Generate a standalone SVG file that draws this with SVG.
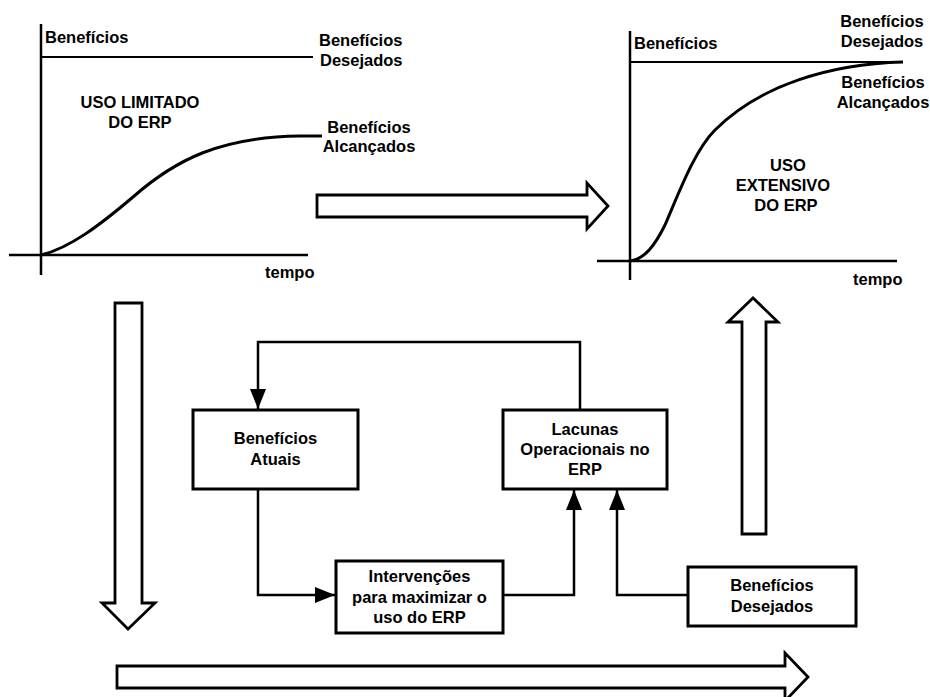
<svg xmlns="http://www.w3.org/2000/svg" width="930" height="697" viewBox="0 0 930 697">
<style>
text{font-family:"Liberation Sans",Arial,sans-serif;font-weight:bold;font-size:16.5px;fill:#000}
.c{text-anchor:middle}
.axis{stroke:#000;stroke-width:2.5;fill:none}
.thin{stroke:#000;stroke-width:1.8;fill:none}
.curve{stroke:#000;stroke-width:3;fill:none}
.block{fill:#fff;stroke:#000;stroke-width:2.8;stroke-linejoin:miter}
.box{fill:#fff;stroke:#000;stroke-width:3}
.conn{stroke:#000;stroke-width:2.5;fill:none}
</style>
<defs>
<marker id="ah" viewBox="0 0 20 16" refX="20" refY="8" markerWidth="20" markerHeight="16" markerUnits="userSpaceOnUse" orient="auto">
<path d="M0,0 L20,8 L0,16 z" fill="#000"/>
</marker>
</defs>
<rect width="930" height="697" fill="#fff"/>

<g id="chart-limitado">
<line class="axis" x1="41" y1="24" x2="41" y2="275"/>
<line class="axis" x1="9" y1="255" x2="308" y2="255"/>
<line class="thin" x1="41" y1="57" x2="313" y2="57"/>
<path class="curve" d="M41,255 C70,248 100,225 133,197 C175,160 220,137 300,136 L322,136"/>
<text x="45" y="43">Benefícios</text>
<text x="319" y="46">Benefícios</text>
<text x="320" y="66">Desejados</text>
<text class="c" x="140" y="108">USO LIMITADO</text>
<text class="c" x="140" y="128">DO ERP</text>
<text class="c" x="369" y="133">Benefícios</text>
<text class="c" x="369" y="152">Alcançados</text>
<text x="265" y="278">tempo</text>
</g>

<g id="chart-extensivo">
<line class="axis" x1="630" y1="31" x2="630" y2="280"/>
<line class="axis" x1="597" y1="261" x2="897" y2="261"/>
<line class="thin" x1="630" y1="62" x2="903" y2="62"/>
<path class="curve" d="M630,261 C645,259 655,245 665,225 C680,190 695,150 715,130 C760,85 830,64 903,62"/>
<text x="634" y="49">Benefícios</text>
<text class="c" x="882" y="27">Benefícios</text>
<text class="c" x="882" y="47">Desejados</text>
<text class="c" x="883" y="88">Benefícios</text>
<text class="c" x="883" y="108">Alcançados</text>
<text class="c" x="788" y="171">USO</text>
<text class="c" x="783" y="191">EXTENSIVO</text>
<text class="c" x="786" y="211">DO ERP</text>
<text x="853" y="285">tempo</text>
</g>

<g id="arrow-right">
<polygon class="block" points="317,195 587,195 587,183 608,206 587,229 587,217 317,217"/>
</g>
<g id="arrow-down">
<polygon class="block" points="115,303 142,303 142,603 155,603 128,629 102,603 115,603"/>
</g>
<g id="arrow-up">
<polygon class="block" points="742,534 766,534 766,322 778,322 753,298 728,322 742,322"/>
</g>
<g id="arrow-bottom">
<polygon class="block" points="117,666 785,666 785,653 808,677 785,701 785,688 117,688"/>
</g>

<g id="connectors">
<path class="conn" d="M580,410 V342 H258 V409" marker-end="url(#ah)"/>
<path class="conn" d="M258,489 V595 H335" marker-end="url(#ah)"/>
<path class="conn" d="M503,595 H574 V490" marker-end="url(#ah)"/>
<path class="conn" d="M688,595 H617 V490" marker-end="url(#ah)"/>
</g>

<g id="beneficios-atuais">
<rect class="box" x="193" y="410" width="165" height="79"/>
<text class="c" x="275.5" y="444">Benefícios</text>
<text class="c" x="275.5" y="465">Atuais</text>
</g>
<g id="intervencoes">
<rect class="box" x="336" y="561" width="167" height="72"/>
<text class="c" x="419.5" y="582">Intervenções</text>
<text class="c" x="419.5" y="603">para maximizar o</text>
<text class="c" x="419.5" y="623">uso do ERP</text>
</g>
<g id="lacunas">
<rect class="box" x="503" y="410" width="164" height="79"/>
<text class="c" x="585" y="435">Lacunas</text>
<text class="c" x="585" y="455">Operacionais no</text>
<text class="c" x="585" y="475">ERP</text>
</g>
<g id="beneficios-desejados">
<rect class="box" x="688" y="567" width="168" height="59"/>
<text class="c" x="772" y="591">Benefícios</text>
<text class="c" x="772" y="612">Desejados</text>
</g>
</svg>
